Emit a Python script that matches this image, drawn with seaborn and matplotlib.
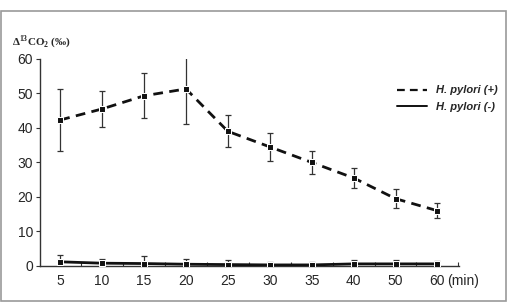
import numpy as np
import pandas as pd
import seaborn as sns
import matplotlib
matplotlib.use("Agg")
import matplotlib.pyplot as plt
from matplotlib.patches import Rectangle
from matplotlib.lines import Line2D

times = ["5", "10", "15", "20", "25", "30", "35", "40", "50", "60"]
pos_mean = [42.3, 45.5, 49.3, 51.3, 39.0, 34.5, 30.0, 25.5, 19.5, 16.0]
pos_err = [9.0, 5.3, 6.5, 10.2, 4.6, 4.0, 3.4, 2.9, 2.7, 2.2]
neg_mean = [1.2, 0.8, 0.7, 0.5, 0.4, 0.3, 0.3, 0.6, 0.6, 0.6]
neg_err = [1.9, 1.2, 2.1, 1.5, 1.3, 0.8, 0.8, 1.0, 1.0, 0.9]
groups = ["H. pylori (+)", "H. pylori (-)"]

sns.set_style("ticks")
plt.rcParams['font.family'] = ['Liberation Sans', 'DejaVu Sans']
plt.rcParams['mathtext.fontset'] = 'custom'
plt.rcParams['mathtext.rm'] = 'Liberation Serif:bold'
plt.rcParams['mathtext.bf'] = 'Liberation Serif:bold'

x = np.arange(len(times))
df = pd.DataFrame({
    "x": np.concatenate([x, x]),
    "y": pos_mean + neg_mean,
    "group": [groups[0]] * len(times) + [groups[1]] * len(times),
})

fig = plt.figure(figsize=(5.08, 3.05), dpi=100)
ax = fig.add_axes([0.079, 0.128, 0.825, 0.679])

ax.errorbar(x, pos_mean, yerr=pos_err, fmt='none', ecolor='#333333', elinewidth=0.9, capsize=2.2, capthick=0.9, zorder=2)
ax.errorbar(x, neg_mean, yerr=neg_err, fmt='none', ecolor='#333333', elinewidth=0.9, capsize=2.2, capthick=0.9, zorder=2)

sns.lineplot(data=df, x="x", y="y", hue="group", style="group",
             palette={groups[0]: "#111111", groups[1]: "#111111"},
             dashes={groups[0]: (3.5, 2.3), groups[1]: ""},
             markers={groups[0]: "s", groups[1]: "s"},
             markersize=4.5, linewidth=2.0, ax=ax, legend=False, zorder=3)

ax.set_xlim(-0.48, 9.52)
ax.set_ylim(0, 60)
ax.set_yticks([0, 10, 20, 30, 40, 50, 60])
ax.set_xticks(x)
ax.set_xticklabels(times)
ax.set_xticks(np.arange(0.5, 10, 1.0), minor=True)
ax.tick_params(axis='x', which='major', length=0, labelsize=10, pad=6)
ax.tick_params(axis='x', which='minor', direction='in', length=3, width=0.8, color='#333333')
ax.tick_params(axis='y', which='major', direction='out', length=3, width=0.8, labelsize=10, pad=2, color='#333333')
ax.set_xlabel("")
ax.set_ylabel("")
sns.despine(ax=ax)
for s in ['left', 'bottom']:
    ax.spines[s].set_linewidth(1.0)
    ax.spines[s].set_color('#333333')

ax.annotate("(min)", xy=(9.22, 0), xycoords=('data', 'axes fraction'),
            xytext=(0, -6), textcoords='offset points', ha='left', va='top', fontsize=10)

fig.text(0.024, 0.862, r"$\Delta^{13}$CO$_{2}$ (‰)", fontsize=8, fontweight='bold',
         family=['Liberation Serif', 'DejaVu Serif'], ha='left', va='center')

handles = [Line2D([], [], color='#111111', lw=1.6, dashes=(3.5, 2.3)),
           Line2D([], [], color='#111111', lw=1.4)]
leg = ax.legend(handles, groups, loc='upper right', bbox_to_anchor=(1.115, 0.92), frameon=False,
                prop={'size': 8, 'style': 'italic', 'weight': 'bold'}, handlelength=2.7,
                handletextpad=0.8, labelspacing=0.55)

fig.patches.append(Rectangle((0.002, 0.013), 0.994, 0.952, transform=fig.transFigure,
                             fill=False, edgecolor='#9a9a9a', linewidth=1.2))

fig.savefig("out.png", dpi=100)
